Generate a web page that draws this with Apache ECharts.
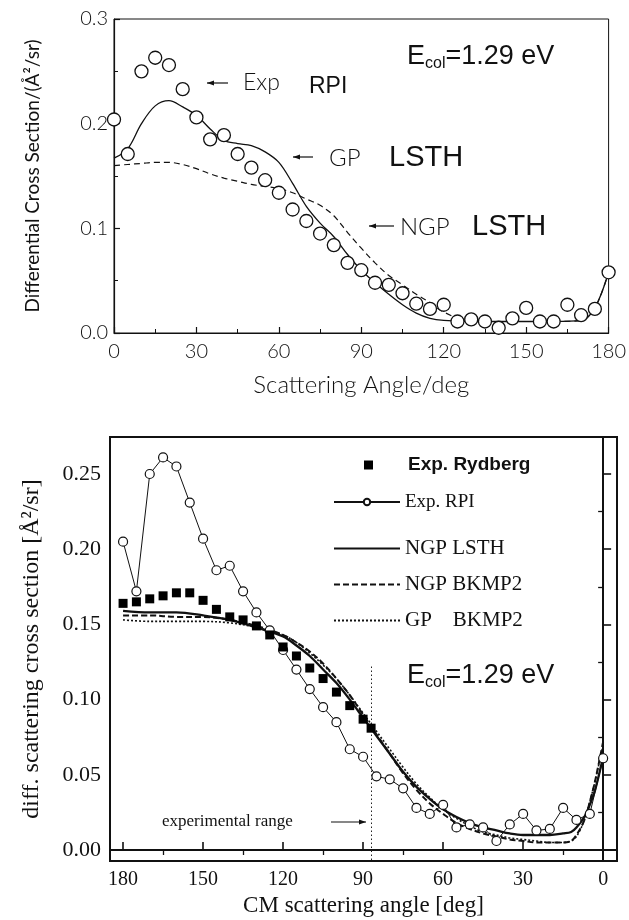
<!DOCTYPE html>
<html><head><meta charset="utf-8">
<script src="https://cdn.jsdelivr.net/npm/echarts@6/dist/echarts.min.js"></script>
<style>html,body{margin:0;padding:0;background:#fff}#c{width:629px;height:920px}</style>
</head><body><div id="c"></div>
<script>
// ---------- top panel ----------
const topAngles = [0,5,10,15,20,25,30,35,40,45,50,55,60,65,70,75,80,85,90,95,100,105,110,115,120,125,130,135,140,145,150,155,160,165,170,175,180];
const topExpRPI = [0.204,0.171,0.250,0.263,0.256,0.233,0.206,0.185,0.189,0.171,0.158,0.146,0.134,0.118,0.107,0.095,0.084,0.067,0.060,0.048,0.046,0.038,0.028,0.023,0.027,0.011,0.013,0.011,0.005,0.014,0.024,0.011,0.011,0.027,0.017,0.023,0.058];
const topCurveAngles = [0,5,10,15,20,25,30,35,40,45,50,55,60,65,70,75,80,85,90,95,100,105,110,115,120,130,140,150,160,170,175,180];
const topGPLSTH  = [0.167,0.176,0.200,0.217,0.222,0.216,0.208,0.195,0.184,0.181,0.179,0.173,0.163,0.143,0.121,0.105,0.092,0.075,0.060,0.048,0.037,0.027,0.019,0.014,0.012,0.011,0.011,0.011,0.011,0.012,0.024,0.058];
const topNGPLSTH = [0.160,0.161,0.162,0.163,0.163,0.161,0.157,0.152,0.148,0.145,0.142,0.140,0.138,0.134,0.128,0.122,0.112,0.096,0.081,0.067,0.055,0.046,0.037,0.029,0.020,0.011,0.011,0.011,0.011,0.012,0.024,0.058];

// ---------- bottom panel ----------
const botRPIAngles = [180,175,170,165,160,155,150,145,140,135,130,125,120,115,110,105,100,95,90,85,80,75,70,65,60,55,50,45,40,35,30,25,20,15,10,5,0];
const botExpRPI = [0.205,0.172,0.250,0.261,0.255,0.231,0.207,0.186,0.189,0.172,0.158,0.146,0.133,0.120,0.107,0.095,0.085,0.067,0.062,0.049,0.047,0.041,0.028,0.024,0.030,0.015,0.017,0.015,0.006,0.017,0.024,0.013,0.014,0.028,0.020,0.024,0.061];
const rydbergAngles = [180,175,170,165,160,155,150,145,140,135,130,125,120,115,110,105,100,95,90,87];
const expRydberg = [0.164,0.165,0.167,0.169,0.171,0.171,0.166,0.160,0.155,0.153,0.149,0.143,0.135,0.129,0.121,0.114,0.105,0.096,0.087,0.081];
const botCurveAngles = [180,170,160,150,140,130,120,115,110,105,100,95,90,85,80,75,70,65,60,55,50,45,40,35,30,25,20,15,12,10,7,5,3,0];
const ngpLSTH  = [0.159,0.158,0.158,0.156,0.153,0.148,0.142,0.136,0.129,0.120,0.111,0.100,0.088,0.076,0.064,0.052,0.042,0.034,0.027,0.022,0.018,0.015,0.013,0.011,0.010,0.010,0.010,0.011,0.012,0.015,0.022,0.030,0.040,0.062];
const ngpBKMP2 = [0.156,0.156,0.155,0.155,0.153,0.149,0.143,0.138,0.132,0.124,0.114,0.103,0.090,0.077,0.064,0.051,0.040,0.031,0.024,0.018,0.014,0.011,0.009,0.007,0.006,0.005,0.005,0.005,0.006,0.010,0.020,0.032,0.046,0.072];
const gpBKMP2  = [0.153,0.152,0.152,0.152,0.151,0.148,0.143,0.138,0.131,0.123,0.114,0.103,0.091,0.079,0.067,0.055,0.044,0.035,0.027,0.021,0.016,0.012,0.010,0.008,0.007,0.006,0.005,0.005,0.006,0.009,0.020,0.032,0.046,0.070];
const botXTicks = [0,30,60,90,120,150,180];
const botXMinor = [15,45,75,105,135,165];
const botYTicks = [0,0.05,0.10,0.15,0.20,0.25];
const botYMinor = [0.025,0.075,0.125,0.175,0.225];
const expRangeAngle = 87;
const expRangeTop = 0.122;

const zip = (a, b) => a.map((x, i) => [x, b[i]]);
const THIN = 'Lato';
const SERIF = '"Liberation Serif","Times New Roman",serif';
const SANS = '"Liberation Sans",Arial,sans-serif';
const BLACK = '#111';

function arrow(x1, x2, y, dir) {
  const hx = dir === 'left' ? x1 : x2;
  const s = dir === 'left' ? 1 : -1;
  return [
    {type:'line', shape:{x1:x1, y1:y, x2:x2, y2:y}, style:{stroke:BLACK, lineWidth:1.2}},
    {type:'polygon', shape:{points:[[hx, y],[hx + s*7, y-2.5],[hx + s*7, y+2.5]]}, style:{fill:BLACK}}
  ];
}

const ecolRich = {
  a: {fontFamily: SANS, fontSize: 27, fill: BLACK},
  b: {fontFamily: SANS, fontSize: 16, fill: BLACK, padding: [14, 0, 0, 0]}
};

const chart = echarts.init(document.getElementById('c'), null, {renderer: 'canvas'});
const option = {
  animation: false,
  backgroundColor: '#fff',
  grid: [
    {left: 114, top: 19, width: 498, height: 314, show: true, borderColor: BLACK, borderWidth: 1, backgroundColor: 'transparent'},
    {left: 110, top: 437, width: 507, height: 424, show: true, borderColor: BLACK, borderWidth: 2, backgroundColor: 'transparent'}
  ],
  xAxis: [
    {gridIndex: 0, type: 'value', min: 0, max: 180, interval: 30,
     axisLine: {lineStyle: {color: BLACK, width: 1.2}},
     axisTick: {inside: true, length: 6, lineStyle: {color: BLACK, width: 1.2}},
     minorTick: {show: true, splitNumber: 2, length: 4, lineStyle: {color: BLACK, width: 1}},
     splitLine: {show: false}, minorSplitLine: {show: false},
     axisLabel: {margin: 9, fontFamily: THIN, fontWeight: 300, fontSize: 20, color: BLACK},
     name: 'Scattering Angle/deg', nameLocation: 'middle', nameGap: 40,
     nameTextStyle: {fontFamily: THIN, fontWeight: 300, fontSize: 24, color: BLACK}},
    {gridIndex: 1, type: 'value', inverse: true, min: -5.2, max: 184.9,
     axisLine: {lineStyle: {color: BLACK, width: 2}},
     axisTick: {inside: true, length: 8, customValues: botXTicks, lineStyle: {color: BLACK, width: 1.6}},
     splitLine: {show: false},
     axisLabel: {customValues: botXTicks, margin: 9, fontFamily: SERIF, fontSize: 20, color: BLACK},
     name: 'CM scattering angle [deg]', nameLocation: 'middle', nameGap: 33,
     nameTextStyle: {fontFamily: SERIF, fontSize: 23, color: BLACK}},
    {gridIndex: 1, type: 'value', inverse: true, min: -5.2, max: 184.9,
     axisLine: {show: false},
     axisTick: {inside: true, length: 5, customValues: botXMinor, lineStyle: {color: BLACK, width: 1.3}},
     splitLine: {show: false}, axisLabel: {show: false}}
  ],
  yAxis: [
    {gridIndex: 0, type: 'value', min: 0, max: 0.3, interval: 0.1,
     axisLine: {lineStyle: {color: BLACK, width: 1.2}},
     axisTick: {inside: true, length: 6, lineStyle: {color: BLACK, width: 1.2}},
     minorTick: {show: true, splitNumber: 2, length: 4, lineStyle: {color: BLACK, width: 1}},
     splitLine: {show: false}, minorSplitLine: {show: false},
     axisLabel: {margin: 6, fontFamily: THIN, fontWeight: 300, fontSize: 20, color: BLACK, formatter: v => v.toFixed(1)},
     name: 'Differential Cross Section/(Å²/sr)', nameLocation: 'middle', nameGap: 72,
     nameTextStyle: {fontFamily: THIN, fontWeight: 400, fontSize: 19, color: BLACK}},
    {gridIndex: 1, type: 'value', min: -0.0073, max: 0.2746,
     axisLine: {lineStyle: {color: BLACK, width: 2}},
     axisTick: {inside: true, length: 8, customValues: botYTicks, lineStyle: {color: BLACK, width: 1.6}},
     splitLine: {show: false},
     axisLabel: {customValues: botYTicks, margin: 9, fontFamily: SERIF, fontSize: 22, color: BLACK, formatter: v => v.toFixed(2)},
     name: 'diff. scattering cross section [Å²/sr]', nameLocation: 'middle', nameGap: 66,
     nameTextStyle: {fontFamily: SERIF, fontSize: 24, color: BLACK}},
    {gridIndex: 1, type: 'value', min: -0.0073, max: 0.2746,
     axisLine: {show: false},
     axisTick: {inside: true, length: 5, customValues: botYMinor, lineStyle: {color: BLACK, width: 1.3}},
     splitLine: {show: false}, axisLabel: {show: false}}
  ],
  legend: [
    {left: 364, top: 455, padding: 0, orient: 'vertical', itemWidth: 9, itemHeight: 9,
     data: [{name: 'Exp. Rydberg', icon: 'rect'}],
     itemStyle: {opacity: 1},
     formatter: n => '{p|}{t|' + n + '}',
     textStyle: {color: BLACK, lineHeight: 20,
       rich: {p: {width: 30}, t: {fontFamily: SANS, fontWeight: 'bold', fontSize: 19, color: BLACK}}}},
    {left: 333, top: 492, padding: 0, orient: 'vertical', itemWidth: 66, itemHeight: 8,
     data: ['Exp. RPI'],
     textStyle: {fontFamily: SERIF, fontSize: 19, color: BLACK, lineHeight: 20}},
    {left: 333, top: 538, padding: 0, orient: 'vertical', itemWidth: 66, itemHeight: 12, itemGap: 15,
     data: ['NGP LSTH', 'NGP BKMP2', 'GP    BKMP2'],
     itemStyle: {color: 'rgba(0,0,0,0)', borderWidth: 0, opacity: 0},
     textStyle: {fontFamily: SERIF, fontSize: 21, color: BLACK, lineHeight: 20}}
  ],
  series: [
    {name: 'top Exp RPI', type: 'scatter', xAxisIndex: 0, yAxisIndex: 0, z: 4,
     data: zip(topAngles, topExpRPI), symbol: 'circle', symbolSize: 13,
     itemStyle: {color: '#fff', borderColor: BLACK, borderWidth: 1.3, opacity: 1}},
    {name: 'top GP LSTH', type: 'line', xAxisIndex: 0, yAxisIndex: 0, z: 3,
     data: zip(topCurveAngles, topGPLSTH), symbol: 'none', smooth: 0.35,
     lineStyle: {color: BLACK, width: 1.3}},
    {name: 'top NGP LSTH', type: 'line', xAxisIndex: 0, yAxisIndex: 0, z: 3,
     data: zip(topCurveAngles, topNGPLSTH), symbol: 'none', smooth: 0.35,
     lineStyle: {color: BLACK, width: 1.2, type: [6, 4]}},

    {name: 'NGP LSTH', type: 'line', xAxisIndex: 1, yAxisIndex: 1, z: 3,
     data: zip(botCurveAngles, ngpLSTH), symbol: 'none', smooth: 0.35,
     itemStyle: {color: BLACK},
     lineStyle: {color: BLACK, width: 2.3}},
    {name: 'NGP BKMP2', type: 'line', xAxisIndex: 1, yAxisIndex: 1, z: 3,
     data: zip(botCurveAngles, ngpBKMP2), symbol: 'none', smooth: 0.35,
     itemStyle: {color: BLACK},
     lineStyle: {color: BLACK, width: 2, type: [6, 3]}},
    {name: 'GP    BKMP2', type: 'line', xAxisIndex: 1, yAxisIndex: 1, z: 3,
     data: zip(botCurveAngles, gpBKMP2), symbol: 'none', smooth: 0.35,
     itemStyle: {color: BLACK},
     lineStyle: {color: BLACK, width: 1.6, type: [2, 2]}},
    {name: 'Exp. RPI', type: 'line', xAxisIndex: 1, yAxisIndex: 1, z: 4,
     data: zip(botRPIAngles, botExpRPI), symbol: 'circle', symbolSize: 9, showSymbol: true,
     itemStyle: {color: '#fff', borderColor: BLACK, borderWidth: 1.2},
     lineStyle: {color: BLACK, width: 1}},
    {name: 'Exp. Rydberg', type: 'scatter', xAxisIndex: 1, yAxisIndex: 1, z: 5,
     data: zip(rydbergAngles, expRydberg), symbol: 'rect', symbolSize: 9,
     itemStyle: {color: '#000', opacity: 1},
     markLine: {silent: true, symbol: 'none', label: {show: false},
       lineStyle: {color: '#222', width: 1, type: [1.5, 2.5]},
       data: [[{coord: [expRangeAngle, expRangeTop]}, {coord: [expRangeAngle, -0.0073]}]]}}
  ],
  graphic: [
    ...arrow(207, 228, 83, 'left'),
    {type: 'text', x: 243, y: 83, style: {text: 'Exp', font: '300 23px Lato', fill: BLACK, verticalAlign: 'middle'}},
    {type: 'text', x: 309, y: 87, style: {text: 'RPI', font: '23px "Liberation Sans"', fill: BLACK, verticalAlign: 'middle'}},
    ...arrow(293, 313, 157, 'left'),
    {type: 'text', x: 329, y: 158, style: {text: 'GP', font: '300 24px Lato', fill: BLACK, verticalAlign: 'middle'}},
    {type: 'text', x: 389, y: 158, style: {text: 'LSTH', font: '29px "Liberation Sans"', fill: BLACK, verticalAlign: 'middle'}},
    ...arrow(369, 394, 226, 'left'),
    {type: 'text', x: 400, y: 227, style: {text: 'NGP', font: '300 24px Lato', fill: BLACK, verticalAlign: 'middle'}},
    {type: 'text', x: 472, y: 227, style: {text: 'LSTH', font: '29px "Liberation Sans"', fill: BLACK, verticalAlign: 'middle'}},
    {type: 'text', x: 407, y: 57, style: {text: '{a|E}{b|col}{a|=1.29 eV}', rich: ecolRich, verticalAlign: 'middle'}},
    {type: 'text', x: 407, y: 676, style: {text: '{a|E}{b|col}{a|=1.29 eV}', rich: ecolRich, verticalAlign: 'middle'}},
    {type: 'text', x: 162, y: 822, style: {text: 'experimental range', font: '17px "Liberation Serif"', fill: BLACK, verticalAlign: 'middle'}},
    ...arrow(331, 366, 822, 'right')
  ]
};
chart.setOption(option);
</script></body></html>
